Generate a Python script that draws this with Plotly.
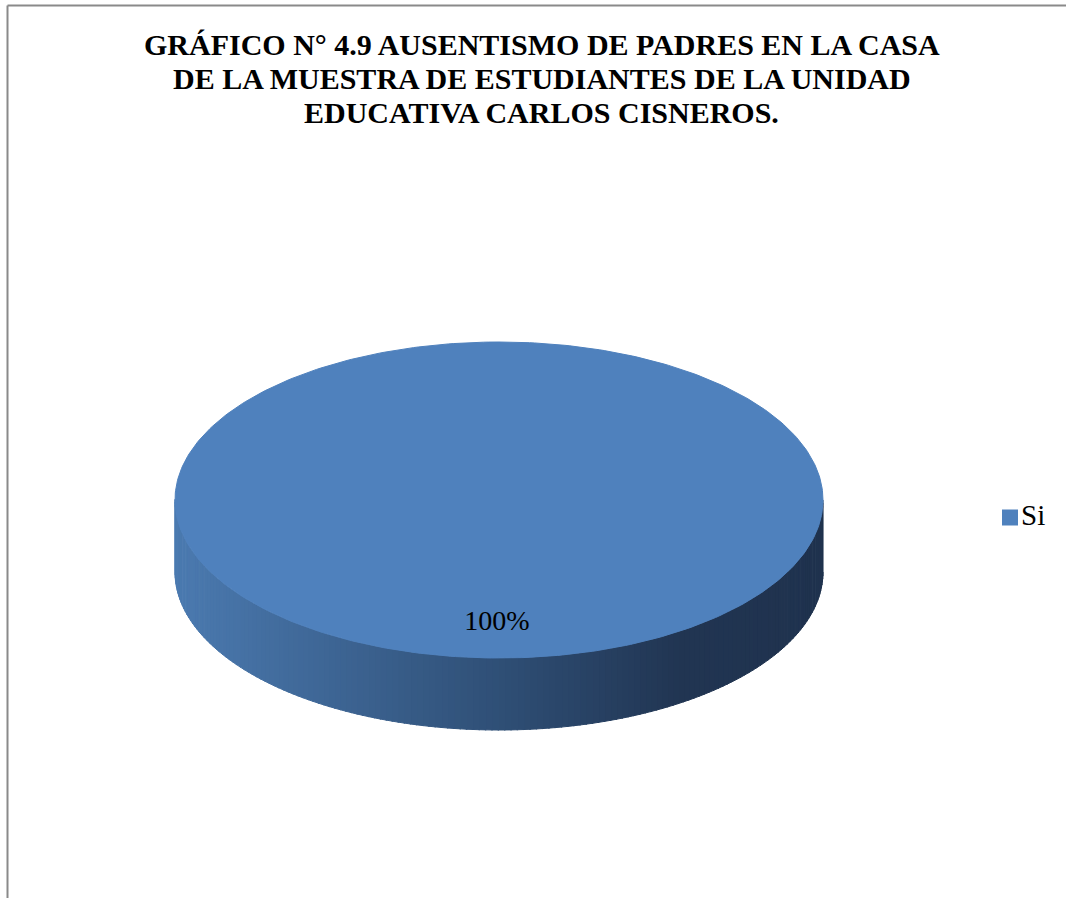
import numpy as np
import plotly.graph_objects as go

# Chart data
categories = ["Si"]
values = [100]
title_lines = [
    "GRÁFICO N° 4.9 AUSENTISMO DE PADRES EN LA CASA",
    "DE LA MUESTRA DE ESTUDIANTES DE LA UNIDAD",
    "EDUCATIVA CARLOS CISNEROS.",
]

W, H = 1066, 898
SERIF = "Liberation Serif"

# 3-D pie geometry (pixel space)
cx, cy = 499, 500      # centre of top face
rx, ry = 324, 158      # radii of top face
depth = 72             # thickness of the disc
top_color = "#4f81bd"
side_stops = [(0.0, (75, 122, 176)), (0.5, (47, 79, 118)),
              (0.78, (33, 53, 82)), (1.0, (31, 50, 78))]


def side_rgb(f):
    for (f0, c0), (f1, c1) in zip(side_stops[:-1], side_stops[1:]):
        if f <= f1:
            k = (f - f0) / (f1 - f0) if f1 > f0 else 0
            return tuple(int(round(a + (b - a) * k)) for a, b in zip(c0, c1))
    return side_stops[-1][1]


fig = go.Figure()

total = sum(values)
fractions = [v / total for v in values]

# side wall: front half of the disc, light on the left and dark on the right
n_strips = 160
edges = np.linspace(0, np.pi, n_strips + 1)
for t0, t1 in zip(edges[:-1], edges[1:]):
    ts = np.linspace(t0, t1 + 0.004, 4)
    xs = cx + rx * np.cos(ts)
    ys = cy + ry * np.sin(ts)
    px = np.concatenate([xs, xs[::-1]])
    py = np.concatenate([ys, ys[::-1] + depth])
    f = (np.mean(xs) - (cx - rx)) / (2 * rx)
    r, g, b = side_rgb(min(max(f, 0), 1))
    col = f"rgb({r},{g},{b})"
    fig.add_trace(go.Scatter(x=px, y=py, mode="lines", fill="toself",
                             fillcolor=col, line=dict(color=col, width=1),
                             hoverinfo="skip", showlegend=False))

# top face: one slice per category, starting at 12 o'clock, clockwise
start = -np.pi / 2
for cat, frac in zip(categories, fractions):
    span = 2 * np.pi * frac
    ts = np.linspace(start, start + span, 400)
    xs = cx + rx * np.cos(ts)
    ys = cy + ry * np.sin(ts)
    if frac < 1:
        xs = np.concatenate([[cx], xs, [cx]])
        ys = np.concatenate([[cy], ys, [cy]])
    fig.add_trace(go.Scatter(x=xs, y=ys, mode="lines", fill="toself",
                             fillcolor=top_color, line=dict(color=top_color, width=1),
                             hoverinfo="skip", showlegend=False))
    mid = start + span / 2
    # data label placed inside the slice
    lx = cx - 2 if frac >= 1 else cx + 0.6 * rx * np.cos(mid)
    ly = 623 if frac >= 1 else cy + 0.6 * ry * np.sin(mid)
    fig.add_trace(go.Scatter(x=[lx], y=[ly], mode="text",
                             text=[f"{frac * 100:.0f}%"],
                             textfont=dict(family=SERIF, size=28, color="#000000"),
                             hoverinfo="skip", showlegend=False))
    start += span

# legend entries
for i, cat in enumerate(categories):
    fig.add_trace(go.Scatter(x=[1010], y=[517.5 + 34 * i], mode="markers+text",
                             marker=dict(symbol="square", size=16, color=top_color),
                             text=[cat], textposition="middle right",
                             textfont=dict(family=SERIF, size=29, color="#000000"),
                             hoverinfo="skip", showlegend=False))

# title, one annotation per line (baselines at 54, 88, 122 px)
for k, line in enumerate(title_lines):
    fig.add_annotation(x=541.5, y=44 + 34 * k, xref="x", yref="y",
                       xanchor="center", yanchor="middle", showarrow=False,
                       text=f"<b>{line}</b>",
                       font=dict(family=SERIF, size=30, color="#000000"))

# chart frame
fig.add_shape(type="line", xref="x", yref="y", x0=7.5, x1=W, y0=5.5, y1=5.5,
              line=dict(color="#8a8a8a", width=2))
fig.add_shape(type="line", xref="x", yref="y", x0=7.5, x1=7.5, y0=5.5, y1=H,
              line=dict(color="#8a8a8a", width=2))

fig.update_layout(
    width=W, height=H,
    margin=dict(l=0, r=0, t=0, b=0),
    font=dict(family=SERIF),
    paper_bgcolor="white", plot_bgcolor="white",
    xaxis=dict(range=[0, W], visible=False, fixedrange=True),
    yaxis=dict(range=[H, 0], visible=False, fixedrange=True),
    showlegend=False,
)

fig.write_html("out.html")
